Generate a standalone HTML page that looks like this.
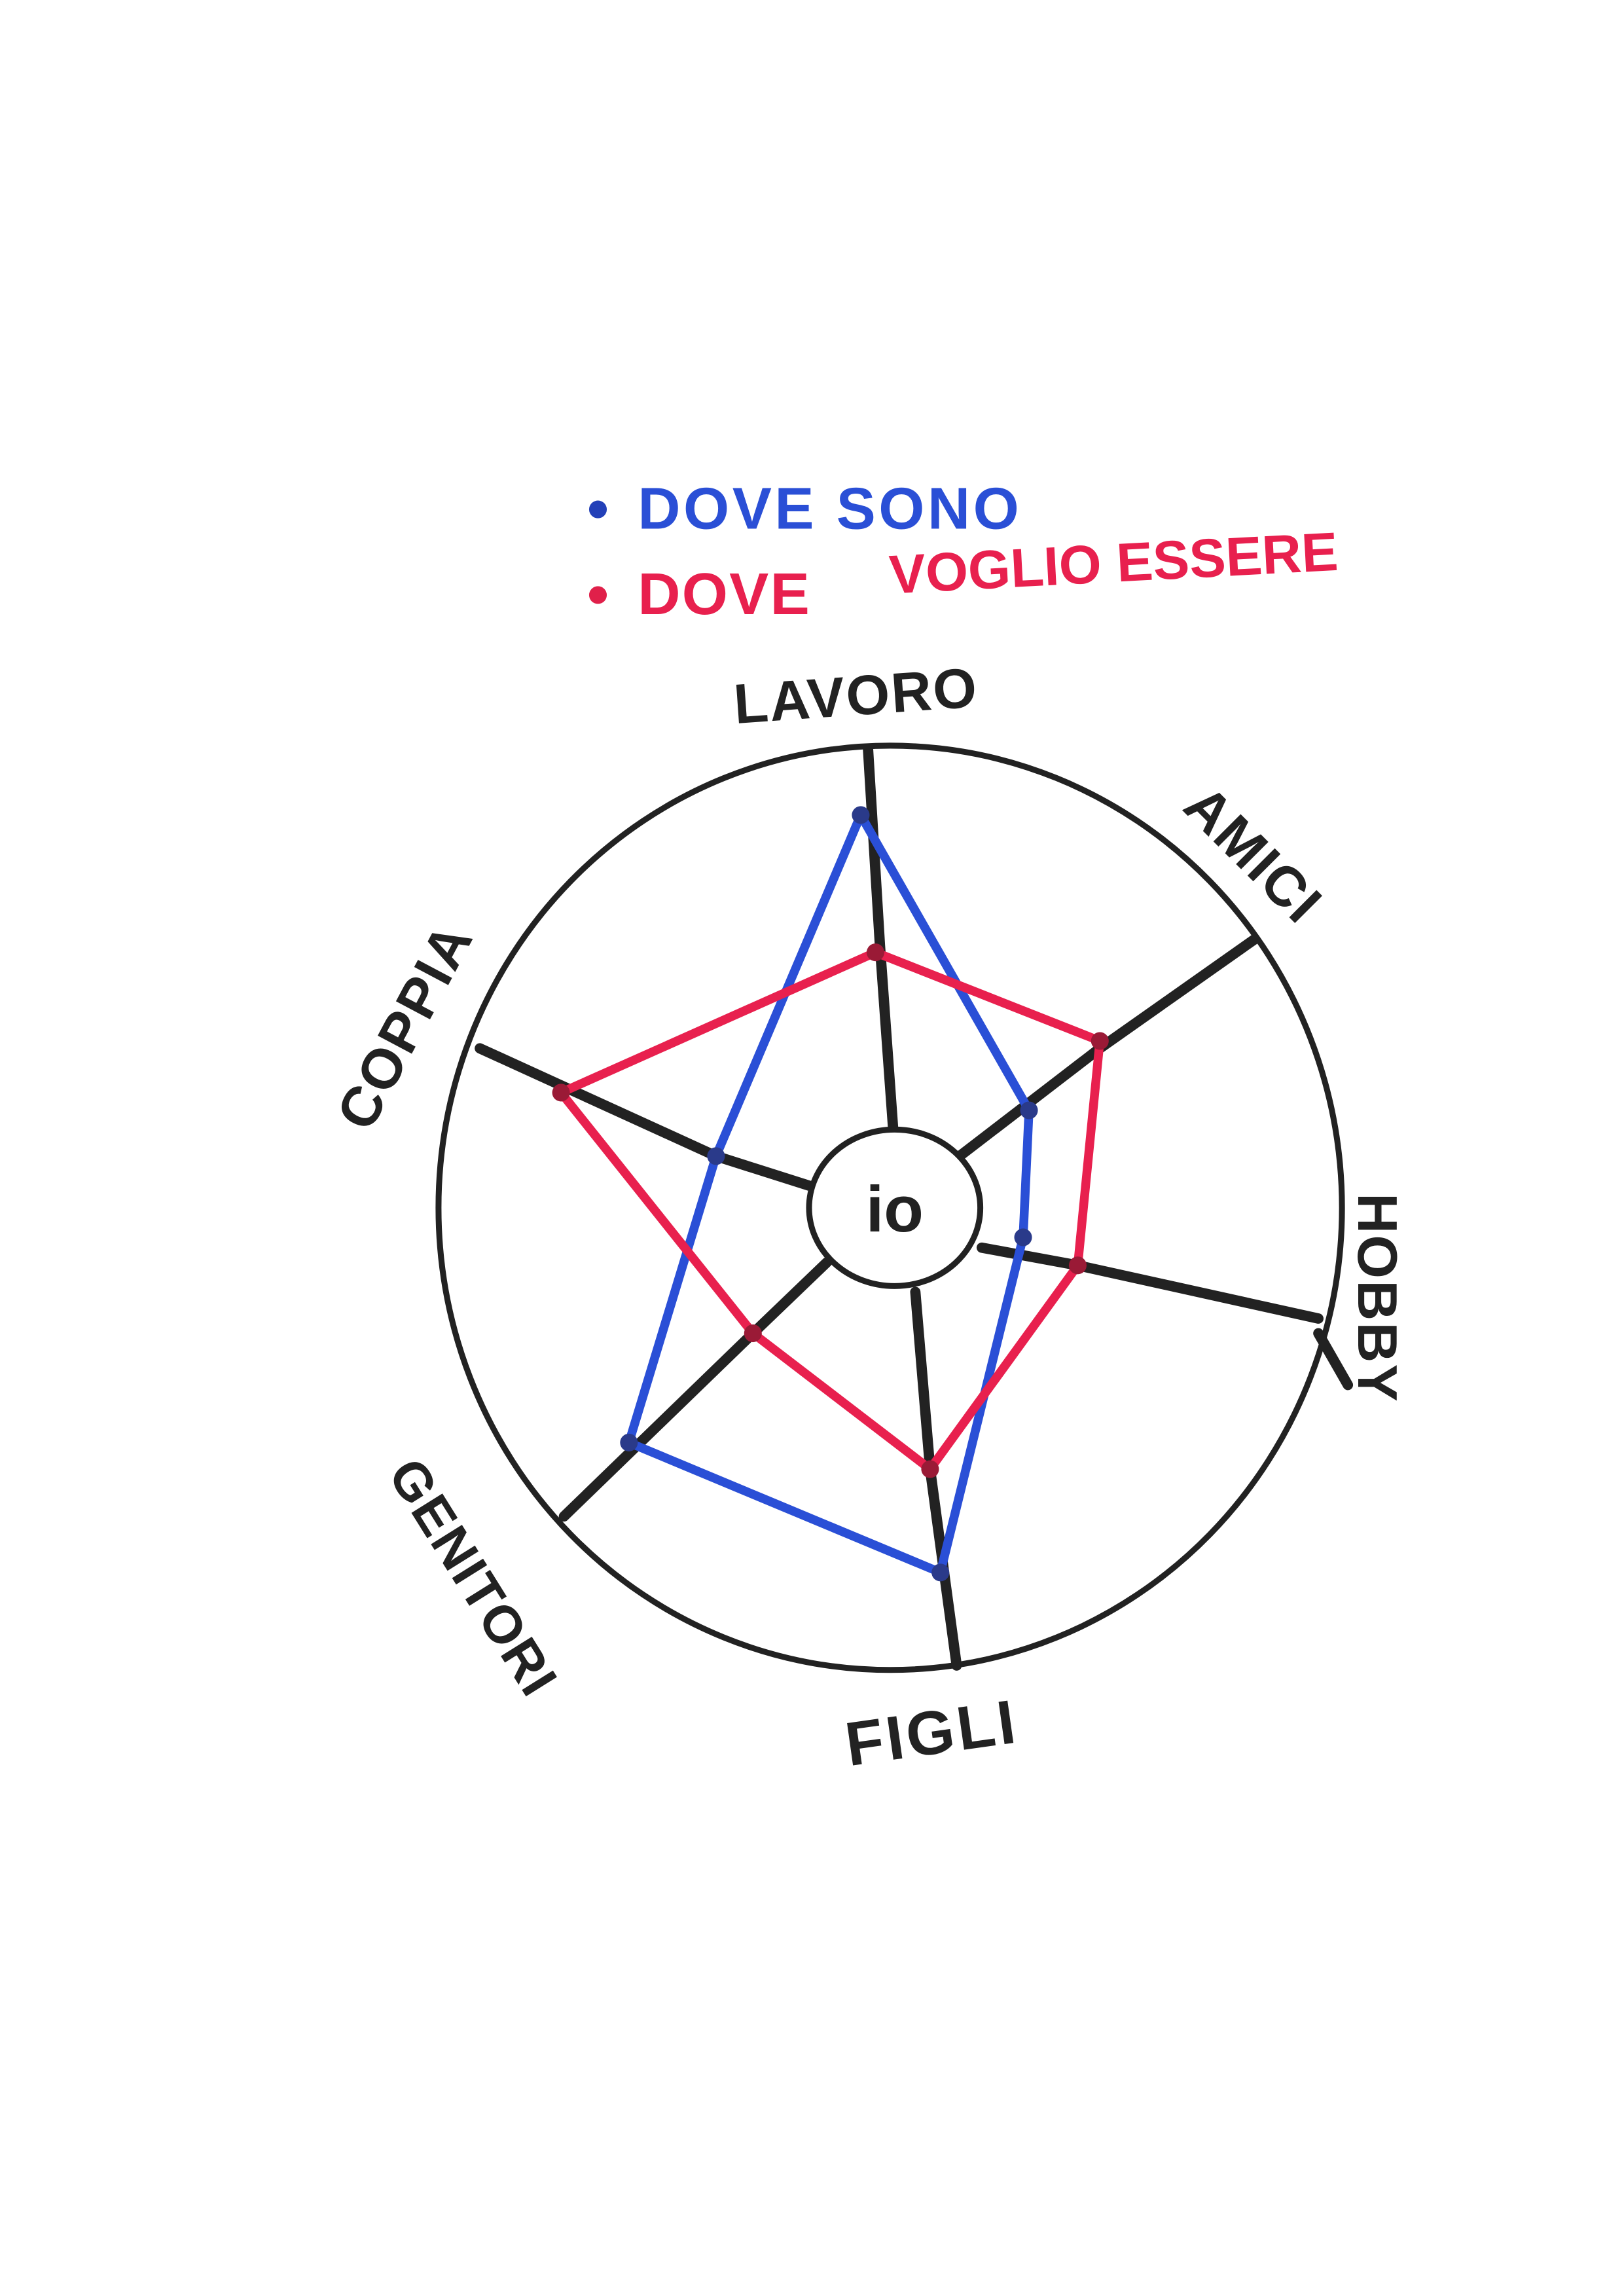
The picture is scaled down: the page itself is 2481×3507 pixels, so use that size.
<!DOCTYPE html>
<html><head><meta charset="utf-8"><style>
html,body{margin:0;padding:0;background:#fff;}
svg{display:block;}
text{font-family:"Liberation Sans",sans-serif;font-weight:bold;}
</style></head><body>
<svg width="2481" height="3507" viewBox="0 0 1100 1555" xmlns="http://www.w3.org/2000/svg">
<rect width="1100" height="1555" fill="#fff"/>
<circle cx="405" cy="345" r="6" fill="#2340b8"/>
<text x="432" y="358" font-size="40" fill="#2a4fd6" letter-spacing="2">DOVE SONO</text>
<circle cx="405" cy="403" r="6" fill="#e0204a"/>
<text x="432" y="416" font-size="40" fill="#e8204e" letter-spacing="1">DOVE</text>
<text x="603" y="402" font-size="37" fill="#e8204e" letter-spacing="0" transform="rotate(-3 603 402)">VOGLIO ESSERE</text>
<ellipse cx="603" cy="818" rx="306" ry="313" fill="none" stroke="#222" stroke-width="4"/>
<g stroke="#222" stroke-width="7" stroke-linecap="round" fill="none">
<path d="M588 508 L596 640 L605 765"/>
<path d="M850 636 L745 710 L650 783"/>
<path d="M665 845 L730 857 L893 893"/>
<path d="M893 903 L913 938"/>
<path d="M620 875 L630 995 L648 1128"/>
<path d="M560 855 L510 903 L382 1027"/>
<path d="M325 710 L485 783 L548 803"/>
</g>
<ellipse cx="606" cy="818" rx="58" ry="53" fill="#fff" stroke="#222" stroke-width="4"/>
<text x="606" y="834" font-size="44" text-anchor="middle" fill="#222">io</text>
<polygon points="583,552 697,752 693,838 637,1065 426,977 485,783" fill="none" stroke="#2a4fd6" stroke-width="6" stroke-linejoin="round"/>
<polygon points="593,645 745,705 730,857 630,995 510,903 380,740" fill="none" stroke="#e8204e" stroke-width="6" stroke-linejoin="round"/>
<g fill="#2a3a8a"><circle cx="583" cy="552" r="6"/><circle cx="697" cy="752" r="6"/><circle cx="693" cy="838" r="6"/><circle cx="637" cy="1065" r="6"/><circle cx="426" cy="977" r="6"/><circle cx="485" cy="783" r="6"/></g>
<g fill="#9a1a36"><circle cx="593" cy="645" r="6"/><circle cx="745" cy="705" r="6"/><circle cx="730" cy="857" r="6"/><circle cx="630" cy="995" r="6"/><circle cx="510" cy="903" r="6"/><circle cx="380" cy="740" r="6"/></g>
<g fill="#222">
<text x="498" y="490" font-size="38" letter-spacing="1" transform="rotate(-4 498 490)">LAVORO</text>
<text x="0" y="0" font-size="38" letter-spacing="1" transform="translate(800 548) rotate(45)">AMICI</text>
<text x="0" y="0" font-size="38" letter-spacing="1" transform="translate(920 808) rotate(90)">HOBBY</text>
<text x="575" y="1196" font-size="42" letter-spacing="2" transform="rotate(-8 575 1196)">FIGLI</text>
<text x="0" y="0" font-size="36" letter-spacing="1" transform="translate(262 998) rotate(58)">GENITORI</text>
<text x="0" y="0" font-size="38" letter-spacing="1" transform="translate(250 768) rotate(-62)">COPPIA</text>
</g>
</svg>
</body></html>
